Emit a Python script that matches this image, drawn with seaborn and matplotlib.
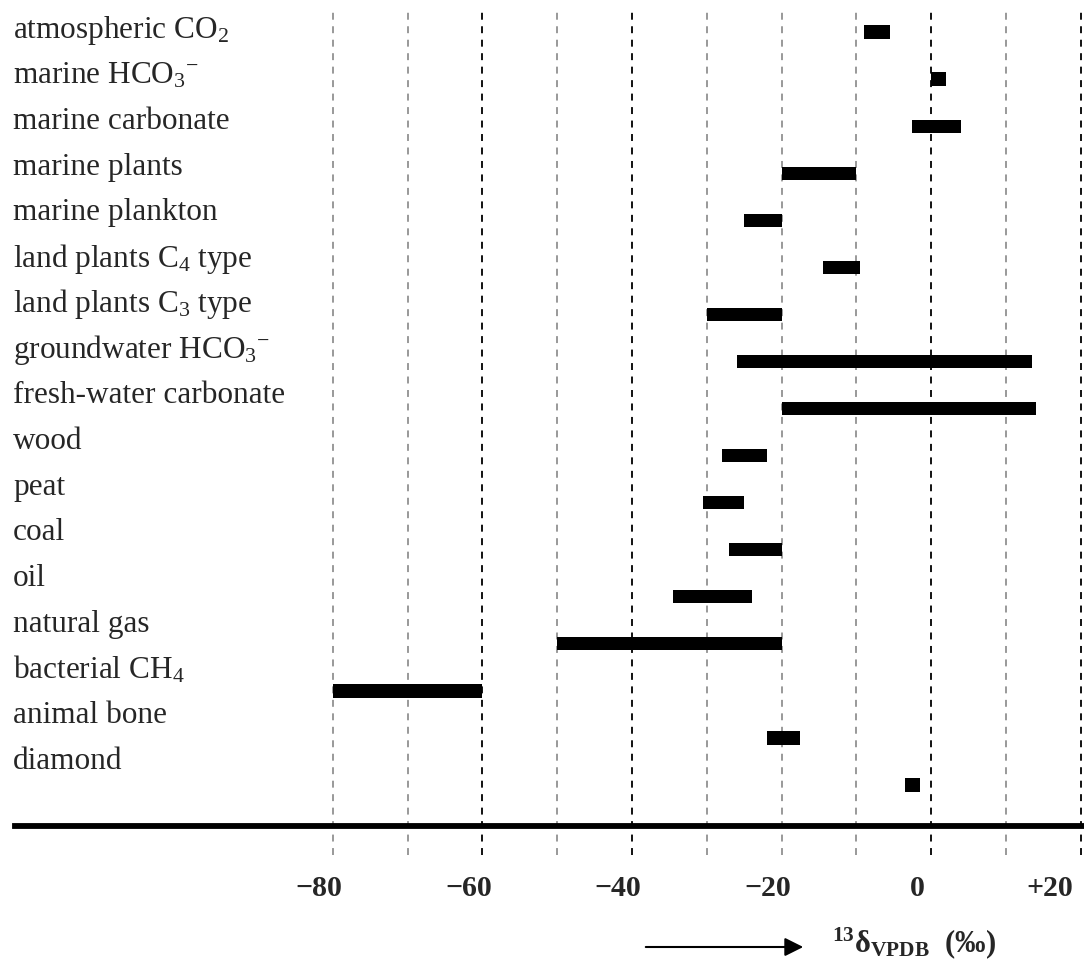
import numpy as np
import matplotlib
matplotlib.use("Agg")
import matplotlib.pyplot as plt
import matplotlib.transforms as mtransforms
import seaborn as sns

# carbon reservoirs and their delta-13C ranges (per mil, VPDB)
sources = ["atmospheric CO2", "marine HCO3-", "marine carbonate", "marine plants",
           "marine plankton", "land plants C4", "land plants C3", "groundwater HCO3-",
           "fresh-water carbonate", "wood", "peat", "coal", "oil", "natural gas",
           "bacterial CH4", "animal bone", "diamond"]
labels = ["atmospheric CO$_2$", "marine HCO$_3{}^{-}$", "marine carbonate", "marine plants",
          "marine plankton", "land plants C$_4$ type", "land plants C$_3$ type",
          "groundwater HCO$_3{}^{-}$", "fresh-water carbonate", "wood", "peat", "coal", "oil",
          "natural gas", "bacterial CH$_4$", "animal bone", "diamond"]
low = [-9, 0, -2.5, -20, -25, -14.5, -30, -26, -20, -28, -30.5, -27, -34.5, -50, -80, -22, -3.5]
high = [-5.5, 2, 4, -10, -20, -9.5, -20, 13.5, 14, -22, -25, -20, -24, -20, -60, -17.5, -1.5]

grid_vals = [-80, -70, -60, -50, -40, -30, -20, -10, 0, 10, 20]
grid_dark = [-60, -40, 0, 20]
tick_vals = [-80, -60, -40, -20, 0, 20]
tick_labels = ["\u221280", "\u221260", "\u221240", "\u221220", "0", "+20"]

sns.set_theme(style="white")
plt.rcParams["font.family"] = ["Liberation Serif", "DejaVu Serif"]
plt.rcParams["mathtext.fontset"] = "custom"
plt.rcParams["mathtext.rm"] = "Liberation Serif"
plt.rcParams["mathtext.it"] = "Liberation Serif:italic"
plt.rcParams["mathtext.bf"] = "Liberation Serif:bold"
plt.rcParams["lines.scale_dashes"] = False

fig = plt.figure(figsize=(10.84, 9.68), dpi=100)
ax = fig.add_axes([15 / 1084, 142 / 968, 1069 / 1084, 818 / 968])

widths = np.array(high) - np.array(low)
sns.barplot(x=widths, y=sources, left=np.array(low), orient="h", color="black",
            saturation=1, width=0.28, errorbar=None, linewidth=0, ax=ax, zorder=3)

for v in grid_vals:
    c = "#111111" if v in grid_dark else "#999999"
    ax.axvline(v, ymin=-0.036, ymax=1, color=c, lw=1.4, ls=(0, (5, 4.7)),
               clip_on=False, zorder=1)

ax.set_xlim(-122.5, 20.45)
ax.set_ylim(16.87, -0.51)
ax.set_yticks([])
ax.set_ylabel("")
ax.set_xlabel("")
for s in ["top", "left", "right"]:
    ax.spines[s].set_visible(False)
ax.spines["bottom"].set_linewidth(4.2)
ax.spines["bottom"].set_color("black")
ax.spines["bottom"].set_zorder(4)

ax.set_xticks(tick_vals)
ax.set_xticklabels(tick_labels, fontsize=21.5, fontweight="bold")
ax.tick_params(axis="x", length=0, pad=35)
for k, lbl in enumerate(ax.get_xticklabels()):
    dx = -31 if k == len(tick_vals) - 1 else -14
    lbl.set_transform(lbl.get_transform()
                      + mtransforms.ScaledTranslation(dx / 100, 0, fig.dpi_scale_trans))

# row labels sit on their own vertical scale (slightly tighter than the bars)
lab_ax = fig.add_axes(ax.get_position(), frameon=False)
lab_ax.set_xlim(0, 1)
lab_ax.set_ylim(17.41, -0.482)
lab_ax.set_xticks([])
lab_ax.set_yticks([])
trans = mtransforms.blended_transform_factory(fig.transFigure, lab_ax.transData)
for j, lab in enumerate(labels):
    lab_ax.text(13 / 1084, j, lab, transform=trans, fontsize=22.5, va="center", ha="left")

# axis caption with arrow
fig.patches.append(matplotlib.patches.FancyArrowPatch(
    (643 / 1084, 1 - 947 / 968), (806 / 1084, 1 - 947 / 968),
    transform=fig.transFigure, arrowstyle="-|>", mutation_scale=28, lw=1.5, color="black"))
fig.text(832 / 1084, 1 - 943 / 968, "$^{\\mathbf{13}}$\u03b4$_{\\mathbf{VPDB}}$  (\u2030)",
         fontsize=22, fontweight="bold", va="center", ha="left")

fig.savefig("out.png", dpi=100)
